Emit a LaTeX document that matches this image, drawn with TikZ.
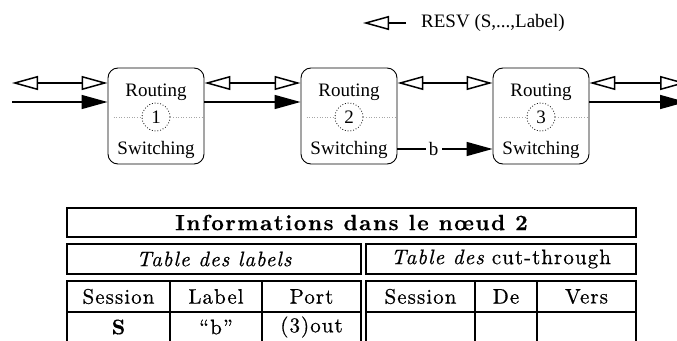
\documentclass[tikz,border=0pt]{standalone}
\usepackage{fontspec}
\newfontfamily\timesfont{Liberation Serif}
\newfontfamily\tabfam{lmroman10}[Extension=.otf, UprightFont=*-regular, BoldFont=*-bold, ItalicFont=*-italic, Ligatures=TeX, LetterSpace=5, FakeBold=0.6]
\newfontfamily\headfam{lmroman10}[Extension=.otf, UprightFont=*-regular, BoldFont=*-bold, ItalicFont=*-italic, Ligatures=TeX, LetterSpace=7, FakeBold=0.4]
\usetikzlibrary{arrows.meta}

\newcommand{\tabfont}{\tabfam\fontsize{21}{24}\selectfont}

\tikzset{
    router/.style={draw, rounded corners=10pt, minimum width=96pt, minimum height=96pt, line width=0.9pt},
    core/.style={draw=black, dotted, line width=0.8pt, circle, minimum size=28pt, inner sep=0pt},
    ghost/.style={draw=black!35, dotted, line width=0.6pt},
    link/.style={line width=1.5pt},
    hollow/.tip={Triangle[open, length=26pt, width=14pt]},
    full/.tip={Triangle[length=26pt, width=14pt]},
    grid/.style={line width=2.6pt},
    cell/.style={font=\tabfont, inner sep=0pt}
}

\begin{document}
\begin{tikzpicture}[x=1pt, y=-1pt, font=\timesfont\fontsize{19}{22}\selectfont]
    \clip (0,0) rectangle (677,340);

    % Legend
    \node[right, inner sep=0pt] (resv) at (421,23) {RESV (S,...,Label)};
    \coordinate (resvtip) at (363,23);
    \draw[link, -hollow] ([xshift=-15pt]resv.west) -- (resvtip);

    % Node 1
    \node[router] (n1) at (156,116) {};
    \node (rt1) at (156,92) {Routing};
    \node[core] (c1) at (156,117) {1};
    \node (sw1) at (156,150) {Switching};
    \draw[ghost] ([xshift=6pt]n1.west |- c1) -- (c1.west);
    \draw[ghost] (c1.east) -- ([xshift=-1pt]n1.east |- c1);

    % Node 2
    \node[router] (n2) at (349,116) {};
    \node (rt2) at (349,92) {Routing};
    \node[core] (c2) at (349,117) {2};
    \node (sw2) at (349,150) {Switching};
    \draw[ghost] ([xshift=6pt]n2.west |- c2) -- (c2.west);
    \draw[ghost] (c2.east) -- ([xshift=-1pt]n2.east |- c2);

    % Node 3
    \node[router] (n3) at (541,116) {};
    \node (rt3) at (541,92) {Routing};
    \node[core] (c3) at (541,117) {3};
    \node (sw3) at (541,150) {Switching};
    \draw[ghost] ([xshift=6pt]n3.west |- c3) -- (c3.west);
    \draw[ghost] (c3.east) -- ([xshift=-1pt]n3.east |- c3);

    % Incoming links
    \coordinate (in1) at (12,83);
    \coordinate (in2) at (12,102);
    \draw[link, hollow-hollow] (in1) -- ([yshift=33pt]n1.west);
    \draw[link, -full] (in2) -- ([yshift=14pt]n1.west);

    % Links 1 -- 2
    \draw[link, hollow-hollow] ([yshift=33pt]n1.east) -- ([yshift=33pt]n2.west);
    \draw[link, -full] ([yshift=14pt]n1.east) -- ([yshift=14pt]n2.west);

    % Links 2 -- 3
    \draw[link, hollow-hollow] ([yshift=33pt]n2.east) -- ([yshift=33pt]n3.west);
    \draw[link, -full] ([yshift=-33pt]n2.east) -- node[pos=0.38, fill=white] (lb) {b} ([yshift=-33pt]n3.west);

    % Outgoing links
    \coordinate (out1) at (686,83);
    \coordinate (out2) at (686,102);
    \draw[link, hollow-hollow] ([yshift=33pt]n3.east) -- (out1);
    \draw[link, -full] ([yshift=14pt]n3.east) -- (out2);

    % Table: title
    \draw[grid] (67,208) rectangle (636,237);
    \node[cell] (title) at (351.5,222.5) {\headfam\bfseries\fontsize{22}{25}\selectfont Informations dans le nœud 2};

    % Table: sub titles
    \draw[grid] (67,244) rectangle (361,274);
    \draw[grid] (366,244) rectangle (636,274);
    \node[cell] (labtab) at (214,259) {\itshape Table des labels};
    \node[cell] (cuttab) at (501,259) {{\itshape Table des} cut-through};

    % Table: labels
    \draw[grid] (67,281) rectangle (361,350);
    \draw[grid] (67,312) -- (361,312);
    \draw[grid] (170,281) -- (170,350);
    \draw[grid] (262,281) -- (262,350);
    \node[cell] (hses) at (118.5,296.5) {Session};
    \node[cell] (hlab) at (216,296.5) {Label};
    \node[cell] (hport) at (311.5,296.5) {Port};
    \node[cell] (dses) at (118.5,327) {\bfseries S};
    \node[cell] (dlab) at (216,327) {``b''};
    \node[cell] (dport) at (311.5,327) {(3)out};

    % Table: cut-through
    \draw[grid] (366,281) rectangle (636,350);
    \draw[grid] (366,312) -- (636,312);
    \draw[grid] (475,281) -- (475,350);
    \draw[grid] (537,281) -- (537,350);
    \node[cell] (hses2) at (420.5,296.5) {Session};
    \node[cell] (hde) at (506,296.5) {De};
    \node[cell] (hvers) at (586.5,296.5) {Vers};
\end{tikzpicture}
\end{document}
